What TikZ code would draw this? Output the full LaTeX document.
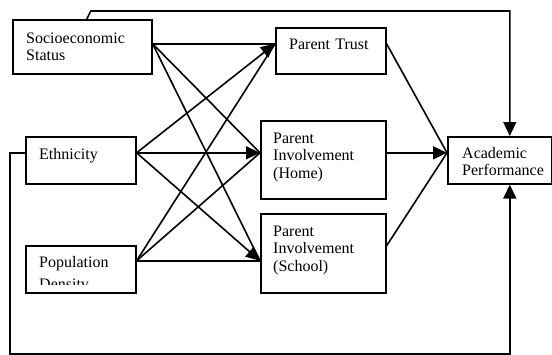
\documentclass[tikz,border=0pt]{standalone}
\usepackage{fontspec}
\setmainfont{Liberation Serif}
\usetikzlibrary{arrows.meta}

\tikzset{
  box/.style={draw, line width=1.6pt, anchor=north west, inner sep=0pt},
  boxtext/.style={anchor=base west, inner sep=0pt, text width=110pt, align=left,
    font=\fontsize{16}{17.5}\selectfont},
  path/.style={line width=1.6pt},
  tip/.style={path, -{Triangle[length=14pt,width=13pt]}}
}

\begin{document}
\begin{tikzpicture}[x=1pt,y=-1pt]

\useasboundingbox (0,0) rectangle (552,354);

% boxes
\node[box, minimum width=139pt, minimum height=54pt] (ses) at (12,19) {};
\node[box, minimum width=110pt, minimum height=47pt] (eth) at (25,136) {};
\node[box, minimum width=110pt, minimum height=47pt] (pop) at (25,245) {};
\node[box, minimum width=110pt, minimum height=46pt] (trust) at (275,27) {};
\node[box, minimum width=125pt, minimum height=78pt] (home) at (260,120) {};
\node[box, minimum width=125pt, minimum height=79pt] (school) at (260,213) {};
\node[box, minimum width=104pt, minimum height=47pt] (acad) at (447,136) {};

% texts
\node[boxtext] (ses-t) at ([xshift=14pt,yshift=-24pt]ses.north west) {Socioeconomic\\Status};
\node[boxtext] (eth-t) at ([xshift=14pt,yshift=-23pt]eth.north west) {Ethnicity};
\begin{scope}
\clip (25,245) rectangle (135,284.3);
\node[boxtext] (pop-t) at ([xshift=14pt,yshift=-22pt]pop.north west) {Population\\[4.5pt]Density};
\end{scope}
\node[boxtext] (trust-t) at ([xshift=14pt,yshift=-22pt]trust.north west) {Parent Trust};
\node[boxtext] (home-t) at ([xshift=13pt,yshift=-23pt]home.north west) {Parent\\Involvement\\(Home)};
\node[boxtext] (school-t) at ([xshift=13pt,yshift=-23pt]school.north west) {Parent\\Involvement\\(School)};
\node[boxtext] (acad-t) at ([xshift=15pt,yshift=-22pt]acad.north west) {Academic\\Performance};

% into parent trust
\draw[path] ([yshift=3pt]ses.east) -- ([yshift=7pt]trust.west);
\draw[tip] ([yshift=7.5pt]eth.east) -- ([yshift=7pt]trust.west);
\draw[path] ([yshift=8.5pt]pop.east) -- ([yshift=7pt]trust.west);

% into home
\draw[path] ([yshift=3pt]ses.east) -- ([yshift=7pt]home.west);
\draw[tip] ([yshift=7.5pt]eth.east) -- ([yshift=7pt]home.west);
\draw[path] ([yshift=8.5pt]pop.east) -- ([yshift=7pt]home.west);

% into school
\draw[path] ([yshift=3pt]ses.east) -- ([yshift=-7.5pt]school.west);
\draw[tip] ([yshift=7.5pt]eth.east) -- ([yshift=-7.5pt]school.west);
\draw[path] ([yshift=8.5pt]pop.east) -- ([yshift=-7.5pt]school.west);

% into academic performance
\draw[path] ([yshift=7pt]trust.east) -- ([yshift=7.5pt]acad.west);
\draw[tip] ([yshift=7pt]home.east) -- ([yshift=7.5pt]acad.west);
\draw[path] ([yshift=7.5pt]school.east) -- ([yshift=7.5pt]acad.west);

\draw[tip] ([xshift=4.5pt]ses.north) -- ++(4,-8) -| ([xshift=10pt]acad.north);
\draw[tip] ([yshift=7.5pt]eth.west) -- ++(-15,0) -- ++(0,201) -| ([xshift=10pt]acad.south);

\end{tikzpicture}
\end{document}
